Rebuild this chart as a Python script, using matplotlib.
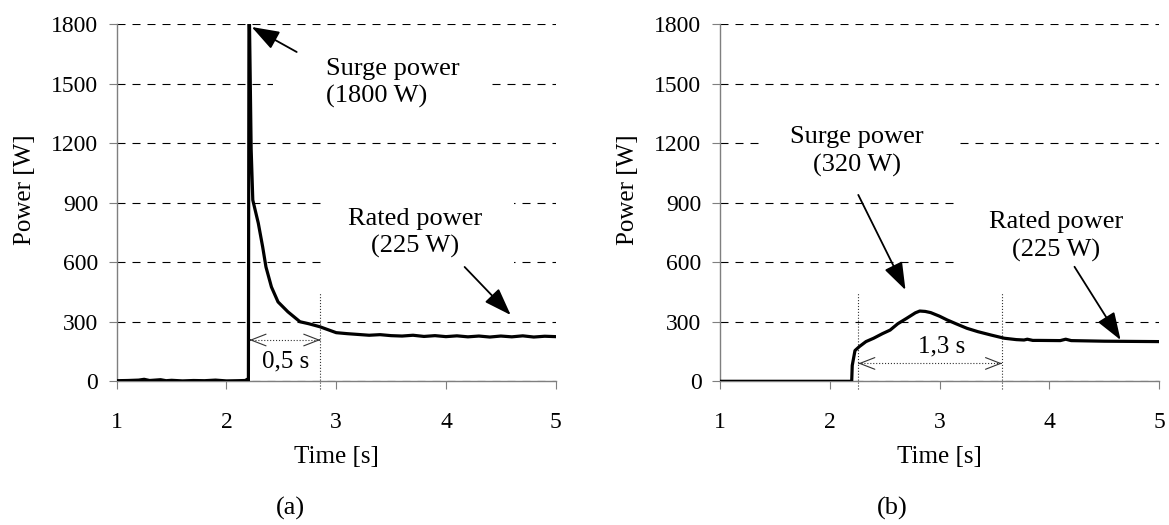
import numpy as np
import matplotlib
matplotlib.use('Agg')
import matplotlib.pyplot as plt
from matplotlib.patches import Rectangle

plt.rcParams['font.family'] = ['Liberation Serif', 'DejaVu Serif']
plt.rcParams['font.size'] = 17

# (a) power trace
time_a = [1.0, 1.1, 1.2, 1.25, 1.3, 1.4, 1.45, 1.5, 1.6, 1.7, 1.8, 1.9, 2.0, 2.1, 2.17, 2.19,
          2.2, 2.205, 2.21, 2.225, 2.24, 2.29, 2.33, 2.36, 2.41, 2.47, 2.56, 2.67, 2.75, 2.85,
          2.95, 3.0, 3.1, 3.2, 3.3, 3.4, 3.5, 3.6, 3.7, 3.8, 3.9, 4.0, 4.1, 4.2, 4.3, 4.4,
          4.5, 4.6, 4.7, 4.8, 4.9, 5.0]
power_a = [3, 4, 6, 10, 4, 8, 3, 5, 2, 4, 3, 6, 2, 3, 4, 10,
           0, 1800, 1800, 1170, 913, 797, 677, 576, 475, 400, 350, 300, 290, 275,
           255, 245, 240, 236, 232, 235, 230, 228, 232, 226, 230, 225, 229, 224, 228, 223,
           228, 224, 229, 223, 227, 225]

# (b) power trace
time_b = [1.0, 2.2, 2.205, 2.23, 2.27, 2.33, 2.4, 2.48, 2.55, 2.62, 2.7, 2.78, 2.82, 2.87,
          2.92, 3.0, 3.07, 3.15, 3.25, 3.35, 3.47, 3.59, 3.7, 3.77, 3.8, 3.85, 3.9, 4.1,
          4.15, 4.2, 4.5, 5.0]
power_b = [0, 0, 80, 155, 175, 200, 217, 240, 258, 290, 317, 345, 354, 352,
           346, 328, 309, 290, 267, 250, 233, 217, 210, 208, 212, 206, 206, 205,
           212, 205, 202, 200]

x_ticks = [1, 2, 3, 4, 5]
y_ticks = [0, 300, 600, 900, 1200, 1500, 1800]

# annotation layout: (label, text position, alignment, arrow tail, arrow tip, white mask box)
panels = [
    dict(time=time_a, power=power_a, left=116.7, tag='(a)', tag_x=290,
         surge=('Surge power\n(1800 W)', (2.91, 1503), 'left', (2.64, 1659), (2.23, 1785),
                (2.42, 1290, 1.95, 353)),
         rated=('Rated power\n(225 W)', (3.716, 747), 'center', (4.17, 576), (4.59, 334),
                (2.86, 535, 1.76, 419)),
         span=(2.21, 2.855, 208, [2.855], 450), span_text=('0,5 s', (2.54, 100))),
    dict(time=time_b, power=power_b, left=720.0, tag='(b)', tag_x=892,
         surge=('Surge power\n(320 W)', (2.251, 1158), 'center', (2.26, 939), (2.69, 460),
                (1.365, 964, 1.765, 378)),
         rated=('Rated power\n(225 W)', (4.06, 729), 'center', (4.23, 577), (4.65, 208),
                (3.13, 535, 1.9, 419)),
         span=(2.26, 3.57, 90, [2.26, 3.57], 446), span_text=('1,3 s', (3.02, 178))),
]

W, H = 1169, 525
fig = plt.figure(figsize=(W / 100, H / 100), dpi=100)

for p in panels:
    ax = fig.add_axes([p['left'] / W, (H - 381.3) / H, 439 / W, 357.3 / H])
    ax.set_axisbelow(True)
    ax.plot(p['time'], p['power'], color='black', lw=2.3, zorder=3,
            solid_joinstyle='round')
    ax.set_xlim(1, 5)
    ax.set_ylim(0, 1800)
    ax.set_xticks(x_ticks)
    ax.set_yticks(y_ticks)
    ax.yaxis.grid(True, color='black', lw=0.8, linestyle=(0, (7.2, 6.3)))
    for s in ['top', 'right']:
        ax.spines[s].set_visible(False)
    for s in ['left', 'bottom']:
        ax.spines[s].set_color('#7f7f7f')
        ax.spines[s].set_linewidth(1.0)
    ax.tick_params(axis='both', direction='out', length=5.8, width=0.8,
                   color='#7f7f7f', labelsize=17)
    ax.tick_params(axis='y', pad=7.5)
    ax.tick_params(axis='x', pad=16)

    # white boxes behind the labels cut the grid lines like the original
    for key in ['surge', 'rated']:
        label, pos, ha, tail, tip, box = p[key]
        ax.add_patch(Rectangle((box[0], box[1]), box[2], box[3], facecolor='white',
                               edgecolor='none', zorder=1, clip_on=False))
        ax.text(pos[0], pos[1], label, ha=ha, va='center', linespacing=1.31,
                multialignment=ha, fontsize=19, zorder=4)
        ax.annotate('', xy=tip, xytext=tail, zorder=5,
                    arrowprops=dict(arrowstyle='-|>,head_length=1.7,head_width=0.6',
                                    mutation_scale=10, color='black', lw=1.3,
                                    shrinkA=0, shrinkB=0))

    # duration marker
    x0, x1, y_arr, vlines, v_top = p['span']
    for xv in vlines:
        ax.plot([xv, xv], [-40, v_top], color='#333333', lw=0.8, ls=':',
                clip_on=False, zorder=2)
    ax.plot([x0, x1], [y_arr, y_arr], color='#333333', lw=0.8, ls=':', zorder=2)
    for xa, xb in [(x0, x0 + 0.01), (x1, x1 - 0.01)]:
        ax.annotate('', xy=(xa, y_arr), xytext=(xb, y_arr), zorder=5,
                    arrowprops=dict(arrowstyle='->,head_length=0.9,head_width=0.35',
                                    mutation_scale=12, color='#333333', lw=0.8,
                                    shrinkA=0, shrinkB=0))
    txt, tpos = p['span_text']
    ax.text(tpos[0], tpos[1], txt, ha='center', va='center', fontsize=18, zorder=4)

    # axis titles and panel tag
    fig.text((p['left'] - 91.7) / W, 1 - 190 / H, 'Power [W]', rotation=90,
             ha='center', va='center', fontsize=18)
    fig.text((p['left'] + 219.5) / W, 1 - 456.7 / H, 'Time [s]',
             ha='center', va='center', fontsize=18)
    fig.text(p['tag_x'] / W, 1 - 508 / H, p['tag'], ha='center', va='center',
             fontsize=19)

fig.savefig('out.png', dpi=100)
